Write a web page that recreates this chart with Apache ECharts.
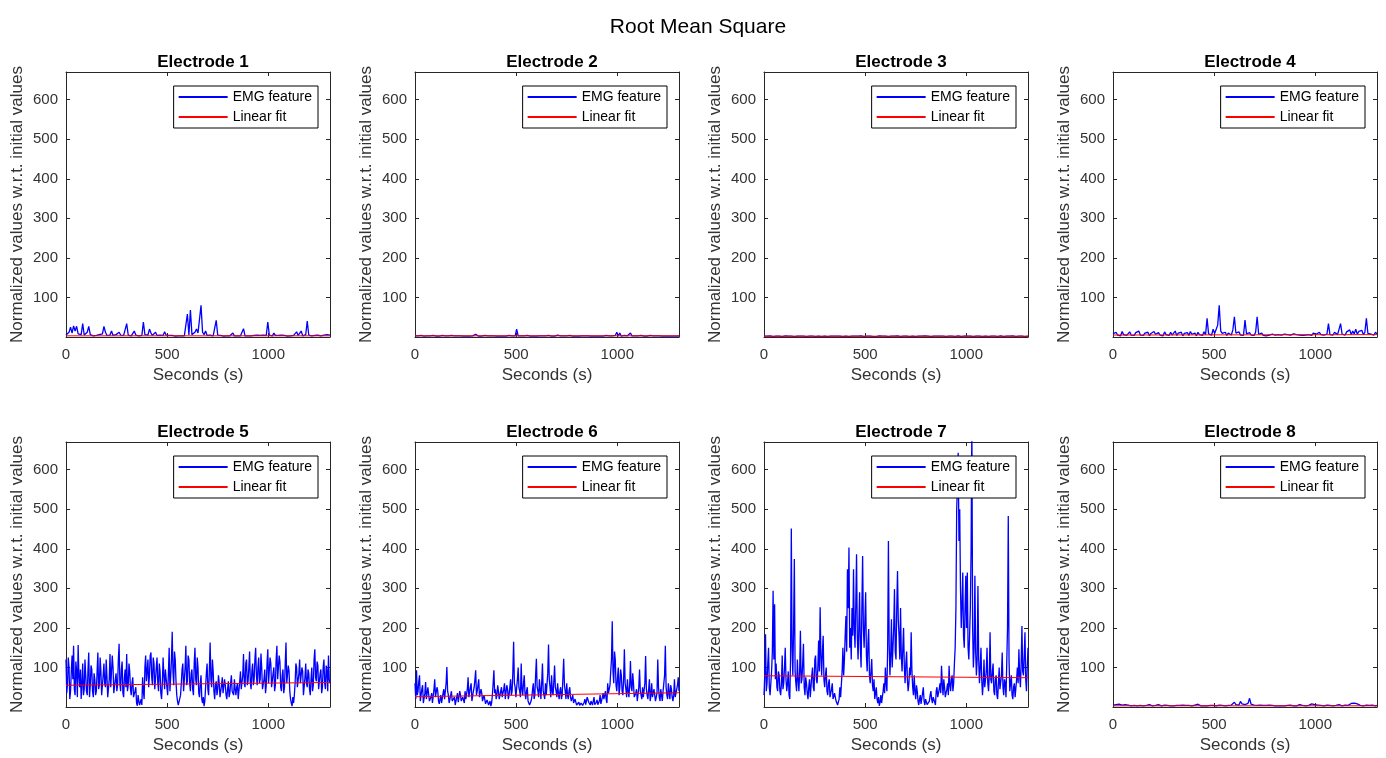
<!DOCTYPE html>
<html><head><meta charset="utf-8">
<script src="https://cdn.jsdelivr.net/npm/echarts@6/dist/echarts.min.js"></script>
<style>html,body{margin:0;padding:0;background:#fff}#c{width:1386px;height:758px}</style>
</head><body><div id="c"></div>
<script>
const mainTitle = 'Root Mean Square';
const panelTitles = ['Electrode 1','Electrode 2','Electrode 3','Electrode 4','Electrode 5','Electrode 6','Electrode 7','Electrode 8'];
const seriesNames = ['EMG feature','Linear fit'];
const xLabel = 'Seconds (s)';
const yLabel = 'Normalized values w.r.t. initial values';
const duration = 1305;       // recording length in seconds (samples are evenly spaced over it)
const xMax = 1305, yMax = 670;
const xTickStep = 500, yTickStep = 100;

const e1 = [5,8,12,25,10,28,15,27,8,4, 6,34,5,7,12,27,6,4,3,5, 4,3,6,5,8,27,12,4,3,5, 15,4,3,6,4,12,5,3,4,6,
 34,5,4,3,6,15,5,4,3,5, 4,38,6,4,5,20,10,4,3,12, 4,3,5,8,4,13,5,3,4,3, 4,3,2,4,3,5,3,4,3,6,
 58,5,68,6,8,12,20,10,5,80, 12,6,15,4,3,5,4,3,6,42, 5,3,4,3,2,4,3,5,3,4, 10,3,4,3,5,3,4,21,3,4,
 3,4,3,2,4,3,5,3,4,3, 5,6,4,38,5,4,3,10,4,3, 4,3,5,3,4,3,2,4,3,5, 4,3,13,4,5,15,3,4,6,40,
 5,4,3,6,4,3,5,4,3,4, 5,3,6,4,5];
const e2 = [3,2,3,2,4,3,2,5,3,2, 3,2,4,3,2,3,2,3,4,2, 3,2,3,2,4,8,3,2,3,2, 3,4,2,3,2,3,2,4,3,2,
 7,3,2,3,2,3,4,2,3,2, 3,2,3,4,2,3,2,3,2,3, 2,3,4,2,3,2,3,20,3,2, 3,2,3,2,4,3,2,3,2,3,
 2,4,3,2,3,2,3,2,4,3, 2,3,2,3,5,2,3,2,3,2, 3,2,4,3,2,3,2,3,2,4, 3,2,3,2,3,4,2,3,2,3,
 2,3,2,3,2,3,4,2,3,2, 3,2,4,12,3,10,2,3,4,2, 3,2,10,3,2,3,2,3,2,4, 3,2,3,2,3,4,2,3,2,3,
 2,3,4,2,3,2,3,2,3,2, 3,2,3,2,3];
const e3 = [2,1,2,2,3,2,1,2,2,1, 2,2,1,2,3,2,2,1,2,2, 1,2,2,3,2,1,2,2,1,2, 2,1,2,2,1,3,2,2,1,2,
 2,2,1,2,2,1,2,3,2,1, 2,2,1,2,2,3,1,2,2,1, 2,1,2,2,3,2,1,2,2,1, 2,2,1,2,1,2,3,2,2,1,
 2,2,1,2,2,1,2,2,3,2, 1,2,2,1,2,2,1,3,2,2, 1,2,2,1,2,2,3,1,2,2, 1,2,2,1,2,3,2,1,2,2,
 1,2,2,1,2,2,1,2,3,2, 1,2,2,3,2,1,2,2,1,2, 2,1,2,2,1,3,2,2,1,2, 2,1,2,2,1,2,3,2,1,2,
 2,1,2,2,3,2,1,2,2,1, 2,2,1,2,2];
const e4 = [8,4,12,5,9,3,14,6,10,4, 7,13,5,9,4,11,6,15,5,8, 4,10,6,12,3,9,5,14,7,4, 11,5,8,3,13,6,9,4,12,5,
 8,15,4,10,6,12,3,9,5,11, 4,14,7,5,10,3,12,6,9,4, 13,6,47,8,12,5,20,9,14,30, 80,15,9,6,12,4,10,7,5,18,
 51,10,6,13,5,9,4,43,8,6, 11,5,9,4,12,51,7,5,10,4, 6,3,8,5,4,7,3,5,4,6, 3,5,4,7,3,6,4,5,3,8,
 4,6,3,5,9,4,7,5,3,6, 8,4,10,5,7,4,12,6,9,5, 10,7,34,6,9,5,12,8,6,11, 34,7,10,5,13,9,18,6,15,8,
 20,7,14,10,17,6,12,47,9,13, 7,10,5,12,8];
const e5 = [120,35,60,125,100,20,40,90,130,70,155,45,30,115,90,25,157,80,50,95,
 20,60,110,30,45,120,80,40,30,95,138,25,55,105,95,40,25,85,70,30,
 40,90,138,45,55,125,90,30,35,80,110,60,50,120,75,25,20,70,134,50,
 45,130,100,35,30,70,85,40,55,120,160,60,40,95,115,35,25,75,95,50,
 134,40,55,110,90,45,30,60,75,25,20,40,50,10,3,30,15,5,2,20,
 5,75,40,20,100,130,65,90,120,50,80,130,138,75,55,125,110,45,70,100,
 125,60,40,110,90,35,20,60,125,80,45,95,100,50,30,85,150,40,75,120,
 190,90,55,140,120,65,30,15,5,10,2,30,60,95,110,40,45,100,155,55,
 65,130,120,60,40,85,95,45,30,110,150,70,55,125,100,35,25,60,80,20,
 10,25,2,15,50,85,110,45,30,95,163,70,50,120,90,40,20,55,65,30,
 45,80,60,25,30,55,75,35,40,70,55,30,20,45,65,25,35,60,80,40,
 45,30,70,45,30,50,60,20,25,65,90,45,40,80,134,60,50,110,120,55,
 65,100,140,60,45,90,110,55,70,120,150,80,55,100,125,60,70,135,100,45,
 40,70,95,35,55,110,146,60,65,125,110,50,45,85,100,40,55,120,155,70,
 65,130,115,50,40,80,95,35,50,110,163,60,55,105,90,40,20,10,2,25,
 10,30,60,110,100,50,45,85,120,60,60,100,90,30,35,75,110,60,50,95,
 85,45,30,70,100,40,55,120,146,75,65,115,105,45,40,85,95,35,50,100,
 120,60,45,105,90,40,130,70,60];
const e6 = [60,20,93,30,40,65,80,15,20,45,55,10,15,35,63,20,25,50,45,15,
 10,25,35,10,15,45,70,25,20,50,40,15,8,20,30,10,12,35,45,20,
 20,60,101,40,30,10,15,30,40,15,10,20,25,5,8,25,35,12,15,40,
 30,15,10,25,20,10,40,20,15,45,75,25,30,50,60,15,20,40,50,70,
 93,30,40,55,70,25,20,45,35,15,12,30,25,8,10,18,20,5,8,15,
 2,10,30,60,93,35,45,20,30,55,40,20,25,40,50,25,30,45,60,20,
 25,55,45,20,30,50,70,30,40,90,165,60,50,25,30,70,100,50,40,25,
 110,45,30,60,80,35,20,40,50,15,10,5,2,15,25,45,60,20,30,80,
 122,50,40,25,70,45,20,60,110,40,35,20,60,30,25,85,158,70,50,25,
 80,40,30,65,105,50,40,25,60,35,20,40,50,20,30,75,122,55,40,20,
 60,30,20,40,50,25,15,20,30,10,8,20,15,5,5,10,12,4,3,10,
 15,4,5,12,20,6,8,25,30,12,10,5,15,20,5,10,25,6,8,12,
 18,6,5,15,30,8,10,25,35,20,15,40,20,10,60,35,30,55,90,120,
 217,90,60,140,120,55,40,75,100,30,50,95,80,40,30,70,146,60,45,25,
 70,40,25,55,116,50,40,85,60,25,20,35,45,15,15,50,95,40,30,20,
 50,25,20,60,129,45,30,20,45,70,15,30,60,25,20,45,40,15,10,35,
 120,50,25,15,45,30,15,40,35,80,155,50,30,20,60,35,20,55,45,25,
 15,30,70,25,30,45,55,75,40];
const e7 = [30,80,184,40,60,110,150,50,30,60,90,140,294,120,260,70,110,50,40,90,
 80,40,30,60,130,45,60,100,150,70,40,60,90,30,20,120,451,150,80,200,
 374,90,60,40,120,70,40,90,193,60,70,110,160,50,30,75,60,35,20,50,
 70,25,30,80,100,50,40,120,130,70,60,100,168,90,252,130,80,140,180,70,
 50,80,100,40,30,60,70,25,20,45,60,20,15,35,40,15,10,5,3,20,
 50,25,20,90,150,80,120,180,230,140,348,250,403,150,200,120,250,180,348,200,
 150,260,386,180,120,200,290,150,100,250,382,200,150,220,290,130,90,160,197,80,
 60,90,121,55,40,70,20,35,50,20,10,25,3,12,30,10,15,40,60,35,
 100,60,40,150,420,160,80,130,222,100,150,200,298,140,120,250,344,220,180,120,
 250,130,90,150,200,100,60,110,140,70,40,60,100,80,189,90,50,30,80,40,
 20,55,40,15,5,20,30,8,10,35,50,15,5,20,25,6,3,10,15,30,
 40,20,10,25,30,12,5,40,50,25,20,45,60,35,104,60,30,70,50,25,
 20,45,60,30,104,55,40,70,80,40,60,110,150,250,500,560,643,420,500,300,
 200,260,340,180,150,250,332,200,340,150,120,180,250,400,720,200,100,150,332,140,
 80,120,306,120,60,100,150,70,30,60,120,50,50,90,150,60,40,80,189,70,
 60,90,110,40,30,70,80,30,20,60,100,45,40,80,138,50,30,70,60,25,
 20,200,483,120,40,60,80,30,20,50,60,25,30,70,100,60,146,80,50,110,
 205,90,80,130,189,70,40,100,150];
const e8 = [5,3,6,4,7,3,5,4,6,3, 5,7,3,6,4,8,3,5,4,6, 3,5,4,3,6,4,3,5,4,3, 6,4,3,8,5,3,4,6,3,4,
 3,5,4,3,4,3,5,3,4,3, 4,6,3,4,5,3,7,4,3,5, 3,4,3,5,4,3,4,6,3,4, 5,3,4,6,3,5,4,7,5,8,
 12,6,10,5,14,8,11,6,5,9, 22,7,4,5,3,4,3,5,3,4, 3,4,3,5,3,4,6,3,4,3, 5,3,4,3,6,4,3,5,4,3,
 4,3,5,6,3,4,5,3,7,4, 5,8,12,6,4,5,3,4,6,3, 4,5,3,4,7,3,5,4,3,6, 4,3,6,5,8,4,6,9,7,10,
 15,8,5,4,6,3,4,5,3,4, 3,5,4,3,4];
const fitStart = [3,3,2,5,55,26,79,3];
const fitEnd   = [3,3,2,6,62,36,74,3];

const emg = [e1,e2,e3,e4,e5,e6,e7,e8];

// ---- layout & style ----
const colLeft = [66,415,764,1113];
const rowTop = [72,442];
const W = 264, H = 265;
const font = '"Liberation Sans", Arial, Helvetica, sans-serif';
const axisColor = '#262626';
const labelColor = '#333';

const grid=[], xAxis=[], yAxis=[], series=[], legend=[];
const title=[{text: mainTitle, left: 693, top: 12, textAlign:'center',
  textStyle:{fontSize:21, fontWeight:'normal', color:'#000', fontFamily:font}}];

emg.forEach((vals, i) => {
  const r = Math.floor(i/4), c = i%4;
  const L = colLeft[c], T = rowTop[r];
  const step = duration/(vals.length-1);
  grid.push({left:L, top:T, width:W, height:H, show:false, outerBoundsMode:'none'});
  const line = {show:true, onZero:false, lineStyle:{color:axisColor, width:1}};
  const tick = {show:true, inside:true, length:4, lineStyle:{color:axisColor, width:1}};
  const xc = {type:'value', gridIndex:i, min:0, max:xMax, interval:xTickStep,
    splitLine:{show:false}, axisLine:line, axisTick:tick};
  const yc = {type:'value', gridIndex:i, min:0, max:yMax, interval:yTickStep,
    splitLine:{show:false}, axisLine:line, axisTick:tick};
  xAxis.push(Object.assign({}, xc, {position:'bottom',
    axisLabel:{show:true, margin:10, fontSize:15, color:labelColor, fontFamily:font, showMaxLabel:false,
      formatter: v => String(v)},
    name:xLabel, nameLocation:'middle', nameGap:30,
    nameTextStyle:{fontSize:17, color:labelColor, fontFamily:font}}));
  xAxis.push(Object.assign({}, xc, {position:'top', axisLabel:{show:false}}));
  yAxis.push(Object.assign({}, yc, {position:'left',
    axisLabel:{show:true, margin:8, fontSize:15, color:labelColor, fontFamily:font, showMinLabel:false, showMaxLabel:false,
      formatter: v => String(v)},
    name:yLabel, nameLocation:'middle', nameGap:40,
    nameTextStyle:{fontSize:17, color:labelColor, fontFamily:font}}));
  yAxis.push(Object.assign({}, yc, {position:'right', axisLabel:{show:false}}));

  series.push({type:'line', name:seriesNames[0], xAxisIndex:2*i, yAxisIndex:2*i,
    data: vals.map((v,k)=>[k*step, v]), symbol:'none', showSymbol:false,
    lineStyle:{color:'#0000ff', width:1.3}, itemStyle:{color:'#0000ff'}, clip:true, z:2, silent:true});
  series.push({type:'line', name:seriesNames[1], xAxisIndex:2*i, yAxisIndex:2*i,
    data: [[0, fitStart[i]], [xMax, fitEnd[i]]], symbol:'none', showSymbol:false,
    lineStyle:{color:'#ff0000', width:1}, itemStyle:{color:'#ff0000'}, clip:true, z:3, silent:true});

  legend.push({show:true, data:seriesNames, orient:'vertical', right:1386-(L+W-12), top:T+14,
    icon:'rect', itemWidth:49, itemHeight:2, itemGap:6, padding:[4,6,4,5],
    borderColor:'#000', borderWidth:1, borderRadius:0, backgroundColor:'#fff', selectedMode:false,
    textStyle:{fontSize:14, color:'#000', fontFamily:font}});

  title.push({text:panelTitles[i], left:L+W/2, top:T-23, textAlign:'center',
    textStyle:{fontSize:17, fontWeight:'bold', color:'#000', fontFamily:font}});
});

const chart = echarts.init(document.getElementById('c'), null, {renderer:'canvas'});
chart.setOption({animation:false, backgroundColor:'#fff', textStyle:{fontFamily:font},
  title, grid, xAxis, yAxis, series, legend});
</script></body></html>
